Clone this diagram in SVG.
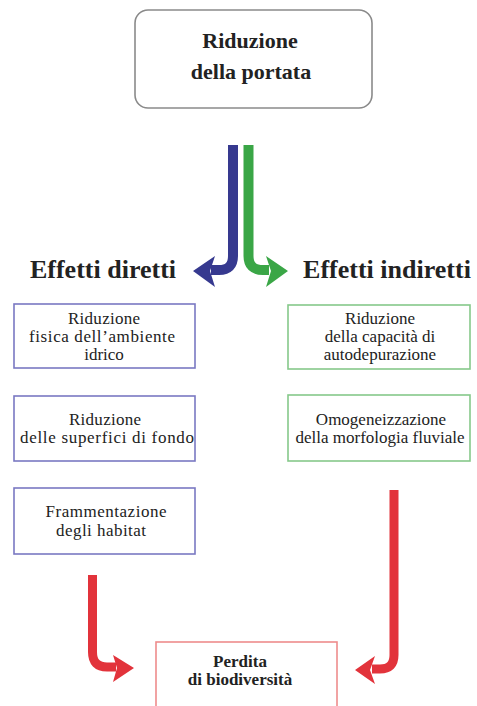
<svg xmlns="http://www.w3.org/2000/svg" width="477" height="706" viewBox="0 0 477 706">
<style>
  text { fill: #222; text-anchor: middle; }
  .title { font-size: 22px; font-weight: bold; }
  .head { font-size: 26px; font-weight: bold; }
  .body { font-size: 17px; }
  .bold { font-size: 17px; font-weight: bold; }
  .bl { fill: #fff; stroke: #7a78c2; stroke-width: 1.6; }
  .gr { fill: #fff; stroke: #86c98a; stroke-width: 1.6; }
  .rd { fill: #fff; stroke: #ee8c8c; stroke-width: 1.6; }
  .shaft { fill: none; stroke-linecap: butt; }
</style>
<rect width="477" height="706" fill="#fff"/>
<g font-family="Liberation Serif, Times New Roman, DejaVu Serif, serif">
<g id="top">
  <rect x="135" y="10" width="237" height="98" rx="13" ry="13" fill="#fff" stroke="#8a8a8a" stroke-width="1.6"/>
  <text class="title" x="250" y="48">Riduzione</text>
  <text class="title" x="251" y="79">della portata</text>
</g>

<g id="labels">
  <text class="head" x="103" y="278">Effetti diretti</text>
  <text class="head" x="387" y="278">Effetti indiretti</text>
</g>

<g id="d1">
  <rect class="bl" x="14" y="304" width="181" height="64"/>
  <text class="body" x="104" y="324" textLength="72" lengthAdjust="spacing">Riduzione</text>
  <text class="body" x="102" y="342" textLength="146" lengthAdjust="spacing">fisica dell’ambiente</text>
  <text class="body" x="104" y="360">idrico</text>
</g>
<g id="d2">
  <rect class="bl" x="14" y="396" width="181" height="65"/>
  <text class="body" x="105" y="425" textLength="72" lengthAdjust="spacing">Riduzione</text>
  <text class="body" x="107" y="443" textLength="174" lengthAdjust="spacing">delle superfici di fondo</text>
</g>
<g id="d3">
  <rect class="bl" x="14" y="488" width="181" height="66"/>
  <text class="body" x="106" y="517" textLength="121" lengthAdjust="spacing">Frammentazione</text>
  <text class="body" x="101" y="536" textLength="90" lengthAdjust="spacing">degli habitat</text>
</g>

<g id="i1">
  <rect class="gr" x="288" y="305" width="182" height="64"/>
  <text class="body" x="380" y="324">Riduzione</text>
  <text class="body" x="380" y="342">della capacità di</text>
  <text class="body" x="380" y="360">autodepurazione</text>
</g>
<g id="i2">
  <rect class="gr" x="288" y="395" width="182" height="66"/>
  <text class="body" x="381" y="425">Omogeneizzazione</text>
  <text class="body" x="380" y="443">della morfologia fluviale</text>
</g>

<g id="bottom">
  <rect class="rd" x="156" y="642" width="181" height="66"/>
  <text class="bold" x="240" y="667">Perdita</text>
  <text class="bold" x="240" y="685">di biodiversità</text>
</g>
</g>
<g id="connectors">
  <path class="shaft" d="M233,145 V256 Q233,270 219,270 H211" stroke="#36398f" stroke-width="10"/>
  <polygon points="215,256 193,271 215,287 210,271" fill="#36398f"/>
  <path class="shaft" d="M248.5,145 V256 Q248.5,270 263,270 H269" stroke="#3aa646" stroke-width="10"/>
  <polygon points="266,256 288,271 266,287 271,271" fill="#3aa646"/>
  <path class="shaft" d="M92.5,575 V652 Q92.5,667 107,667 H116" stroke="#e2333b" stroke-width="9"/>
  <polygon points="113,655 134,668 113,682 117,668" fill="#e2333b"/>
  <path class="shaft" d="M394,490 V655 Q394,669 380,669 H372" stroke="#e2333b" stroke-width="9"/>
  <polygon points="375,656 355,670 375,684 370,670" fill="#e2333b"/>
</g>
</svg>
